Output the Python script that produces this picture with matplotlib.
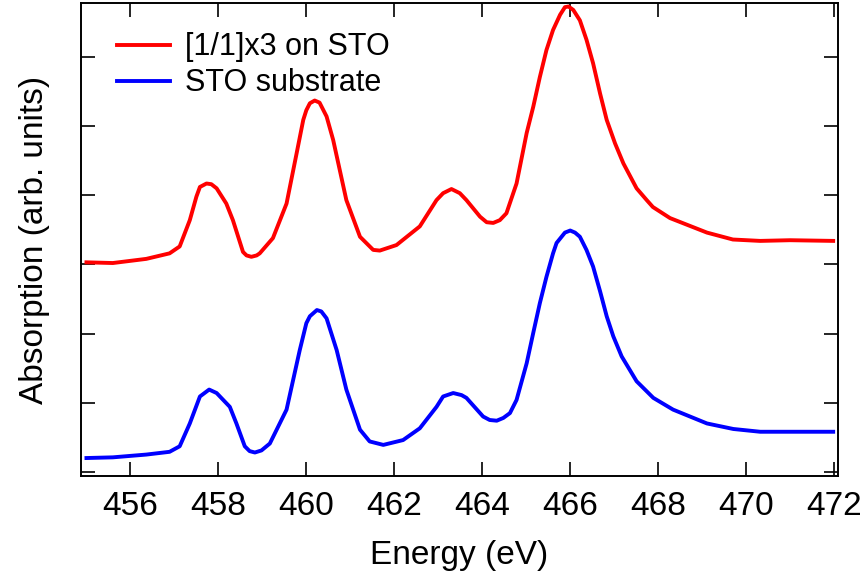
import numpy as np
import matplotlib.pyplot as plt

plt.rcParams['font.family'] = ['Liberation Sans', 'DejaVu Sans']

# [1/1]x3 on STO (offset upward)
film_e = [455.01, 455.61, 456.37, 456.90, 457.13, 457.36, 457.51, 457.59, 457.74,
          457.85, 457.97, 458.19, 458.34, 458.57, 458.65, 458.76, 458.88, 458.95,
          459.25, 459.56, 459.79, 459.94, 460.01, 460.09, 460.20, 460.31, 460.47,
          460.62, 460.92, 461.23, 461.53, 461.68, 462.06, 462.59, 462.97, 463.12,
          463.31, 463.50, 463.65, 463.96, 464.11, 464.26, 464.41, 464.56, 464.79,
          465.02, 465.17, 465.32, 465.47, 465.62, 465.78, 465.89, 465.97, 466.08,
          466.23, 466.38, 466.53, 466.69, 466.84, 467.03, 467.22, 467.52, 467.75,
          467.89, 468.28, 469.12, 469.71, 470.33, 471.01, 471.99]
film_abs = [3.03, 3.02, 3.08, 3.16, 3.26, 3.64, 3.98, 4.12, 4.17,
            4.16, 4.10, 3.88, 3.64, 3.18, 3.13, 3.11, 3.13, 3.16,
            3.38, 3.88, 4.61, 5.09, 5.23, 5.33, 5.37, 5.34, 5.14,
            4.80, 3.93, 3.40, 3.21, 3.20, 3.28, 3.55, 3.93, 4.03,
            4.09, 4.03, 3.93, 3.69, 3.61, 3.60, 3.64, 3.74, 4.17,
            4.90, 5.28, 5.71, 6.10, 6.39, 6.61, 6.72, 6.73, 6.68,
            6.53, 6.25, 5.91, 5.47, 5.09, 4.75, 4.46, 4.10, 3.93,
            3.83, 3.67, 3.46, 3.36, 3.34, 3.35, 3.34]

# STO substrate
sub_e = [455.01, 455.61, 456.37, 456.90, 457.13, 457.36, 457.59, 457.80, 457.97,
         458.27, 458.42, 458.61, 458.72, 458.84, 458.99, 459.18, 459.56, 459.86,
         460.01, 460.09, 460.25, 460.35, 460.47, 460.70, 460.92, 461.23, 461.45,
         461.76, 462.21, 462.59, 462.97, 463.12, 463.35, 463.54, 463.65, 464.03,
         464.18, 464.34, 464.49, 464.64, 464.79, 465.02, 465.17, 465.32, 465.47,
         465.62, 465.70, 465.89, 466.01, 466.12, 466.23, 466.38, 466.53, 466.69,
         466.84, 466.99, 467.18, 467.52, 467.90, 468.35, 469.12, 469.72, 470.33,
         471.01, 471.99]
sub_abs = [0.20, 0.21, 0.25, 0.29, 0.37, 0.70, 1.09, 1.19, 1.14,
           0.94, 0.70, 0.37, 0.30, 0.28, 0.31, 0.41, 0.90, 1.76,
           2.15, 2.25, 2.34, 2.32, 2.22, 1.76, 1.19, 0.61, 0.44,
           0.39, 0.46, 0.63, 0.94, 1.09, 1.14, 1.11, 1.07, 0.80,
           0.75, 0.74, 0.78, 0.85, 1.04, 1.57, 2.01, 2.44, 2.82,
           3.16, 3.31, 3.46, 3.49, 3.46, 3.40, 3.21, 2.97, 2.61,
           2.25, 1.96, 1.67, 1.31, 1.07, 0.90, 0.70, 0.62, 0.58,
           0.58, 0.58]

fig = plt.figure(figsize=(8.65, 5.81), dpi=100)
ax = fig.add_axes([0.0936, 0.1807, 0.8752, 0.8141])

ax.plot(film_e, film_abs, c='#ff0000', lw=2.8, solid_joinstyle='round',
        label='[1/1]x3 on STO')
ax.plot(sub_e, sub_abs, c='#0000ff', lw=2.8, solid_joinstyle='round',
        label='STO substrate')

ax.set_xlim(454.885, 472.1)
ax.set_ylim(-0.06, 6.78)
ax.set_xticks(np.arange(456, 473, 2))
ax.set_yticks(np.arange(0, 7, 1))
ax.set_yticklabels([])
ax.tick_params(direction='in', length=10, width=1.2, top=True, right=True,
               labelsize=24, pad=11)
for s in ax.spines.values():
    s.set_linewidth(1.4)

ax.set_xlabel('Energy (eV)', fontsize=24, labelpad=13)
ax.set_ylabel('Absorption (arb. units)', fontsize=24, labelpad=11)

ax.legend(loc='upper left', bbox_to_anchor=(0.047, 0.938), frameon=False,
          fontsize=22, handlelength=1.75, handletextpad=0.5,
          labelspacing=0.2, borderpad=0, borderaxespad=0)

fig.savefig('out.png', dpi=100)
